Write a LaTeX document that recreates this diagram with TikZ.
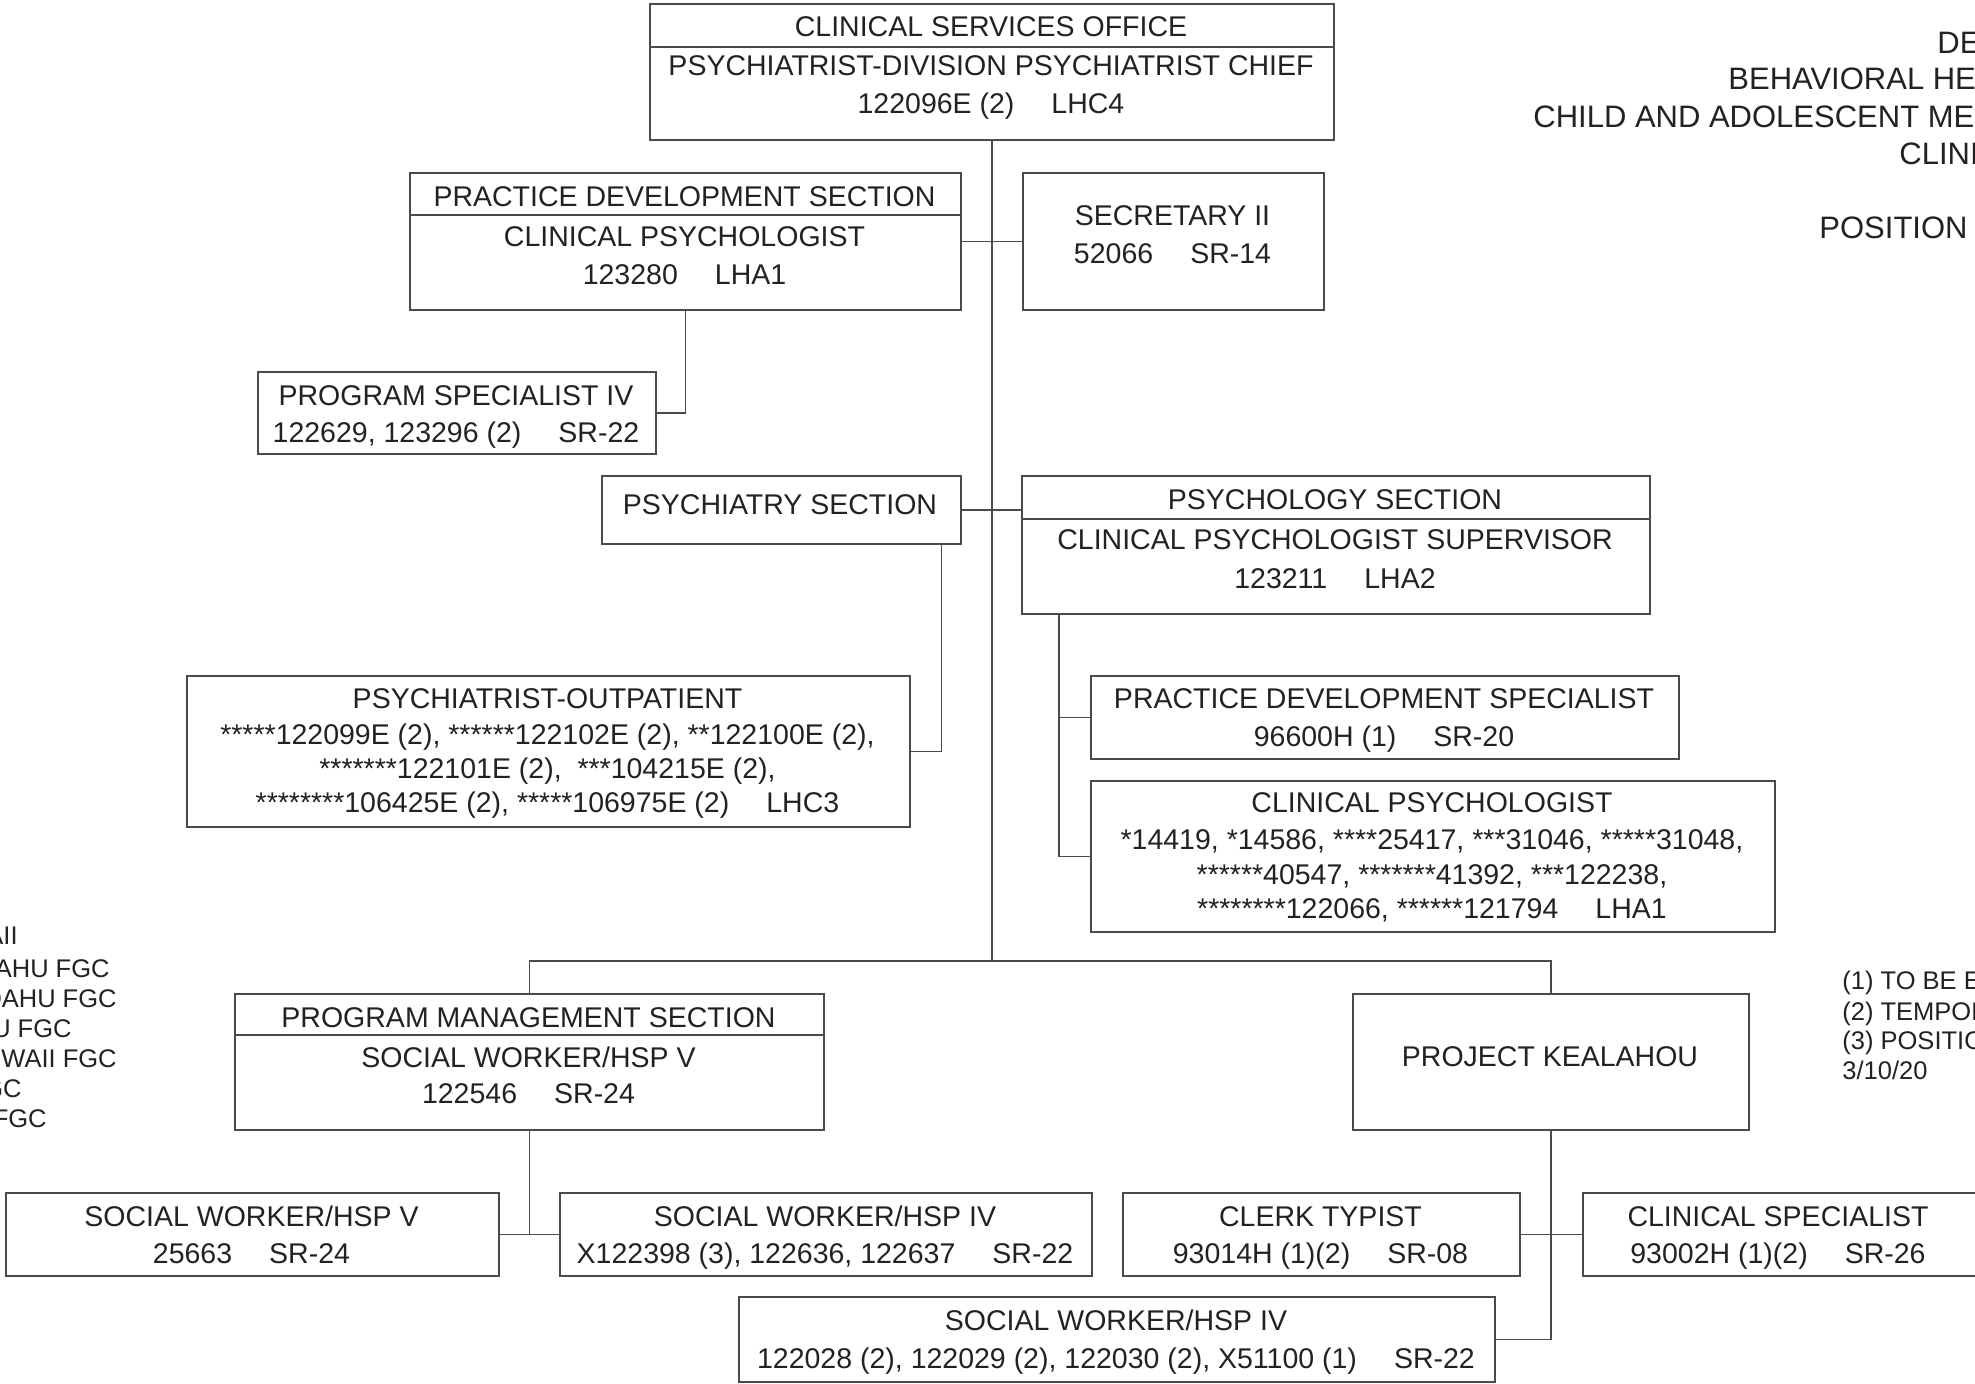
\documentclass[tikz,border=0pt]{standalone}
\usepackage{fontspec}
\setmainfont{Liberation Sans}
\usetikzlibrary{calc}
\definecolor{linec}{HTML}{4A4A4A}
\definecolor{textc}{HTML}{222222}
\newcommand{\gp}{\hspace{1.3em}}
\begin{document}
\begin{tikzpicture}[x=0.5pt,y=-0.5pt,
 box/.style={draw=linec, line width=0.75pt, inner sep=0, anchor=north west},
 txt/.style={inner sep=0, anchor=base, text=textc, font=\fontsize{14.25}{17}\selectfont},
 ttl/.style={inner sep=0, anchor=base west, text=textc, font=\fontsize{15.5}{18}\selectfont},
 legl/.style={inner sep=0, anchor=base east, text=textc, font=\fontsize{12.75}{15}\selectfont},
 legr/.style={inner sep=0, anchor=base west, text=textc, font=\fontsize{12.75}{15}\selectfont},
 conn/.style={draw=linec, line width=0.75pt}]
\clip (0,0) rectangle (1975,1383);
\fill[white] (0,0) rectangle (1975,1383);
% boxes
\node[box, minimum width=342pt, minimum height=68pt] (cso) at (649,3) {};
\node[box, minimum width=275.5pt, minimum height=68.5pt] (pds) at (409,172) {};
\node[box, minimum width=150.5pt, minimum height=68.5pt] (sec) at (1022,172) {};
\node[box, minimum width=199pt, minimum height=41pt] (ps4) at (257,371) {};
\node[box, minimum width=179.5pt, minimum height=34pt] (psy) at (601,475) {};
\node[box, minimum width=314pt, minimum height=69pt] (pgy) at (1021,475) {};
\node[box, minimum width=361.5pt, minimum height=75.5pt] (out) at (186,675) {};
\node[box, minimum width=294pt, minimum height=41.5pt] (pdsp) at (1090,675) {};
\node[box, minimum width=342pt, minimum height=75.5pt] (clp) at (1090,780) {};
\node[box, minimum width=294.5pt, minimum height=68pt] (pms) at (234,993) {};
\node[box, minimum width=198pt, minimum height=68pt] (kea) at (1352,993) {};
\node[box, minimum width=246.5pt, minimum height=41.5pt] (sw5) at (5,1192) {};
\node[box, minimum width=266pt, minimum height=41.5pt] (sw4a) at (559,1192) {};
\node[box, minimum width=198.5pt, minimum height=41.5pt] (clk) at (1122,1192) {};
\node[box, minimum width=210pt, minimum height=41.5pt] (csp) at (1582,1192) {};
\node[box, minimum width=378pt, minimum height=42.5pt] (sw4b) at (738,1296) {};
% dividers
\draw[conn] ([yshift=-22pt]cso.north west) -- ([yshift=-22pt]cso.north east);
\draw[conn] ([yshift=-21.5pt]pds.north west) -- ([yshift=-21.5pt]pds.north east);
\draw[conn] ([yshift=-22pt]pgy.north west) -- ([yshift=-22pt]pgy.north east);
\draw[conn] ([yshift=-21pt]pms.north west) -- ([yshift=-21pt]pms.north east);
% connectors
\coordinate (busy) at (0,961);
\coordinate (psyd) at ($(psy.south east)+(-20,0)$);
\coordinate (pgyd) at ($(pgy.south west)+(38,0)$);
\draw[conn] (cso.south) -- (cso.south |- busy);
\draw[conn] (pms.north) -- (pms.north |- busy) -- (kea.north |- busy) -- (kea.north);
\draw[conn] (pds.east) -- (sec.west);
\draw[conn] (pds.south) |- (ps4.east);
\draw[conn] (psy.east) -- (psy.east -| pgy.west);
\draw[conn] (psyd) |- (out.east);
\draw[conn] (pgyd) |- (pdsp.west);
\draw[conn] (pgyd) |- (clp.west);
\draw[conn] (pms.south) -- (pms.south |- sw5.east);
\draw[conn] (sw5.east) -- (sw4a.west);
\draw[conn] (kea.south) |- (sw4b.east);
\draw[conn] (clk.east) -- (csp.west);
% texts
\node[txt] (cso1) at (991,36) {CLINICAL SERVICES OFFICE};
\node[txt] (cso2) at (991,75) {PSYCHIATRIST-DIVISION PSYCHIATRIST CHIEF};
\node[txt] (cso3) at (991,113) {122096E (2)\gp LHC4};
\node[txt] (pds1) at (684.5,206) {PRACTICE DEVELOPMENT SECTION};
\node[txt] (pds2) at (684.5,246) {CLINICAL PSYCHOLOGIST};
\node[txt] (pds3) at (684.5,284) {123280\gp LHA1};
\node[txt] (sec1) at (1172.5,225) {SECRETARY II};
\node[txt] (sec2) at (1172.5,263) {52066\gp SR-14};
\node[txt] (ps41) at (456,405) {PROGRAM SPECIALIST IV};
\node[txt] (ps42) at (456,442) {122629, 123296 (2)\gp SR-22};
\node[txt] (psy1) at (780,514) {PSYCHIATRY SECTION};
\node[txt] (pgy1) at (1335,509) {PSYCHOLOGY SECTION};
\node[txt] (pgy2) at (1335,549) {CLINICAL PSYCHOLOGIST SUPERVISOR};
\node[txt] (pgy3) at (1335,588) {123211\gp LHA2};
\node[txt] (out1) at (547.5,708) {PSYCHIATRIST-OUTPATIENT};
\node[txt] (out2) at (547.5,744) {*****122099E (2), ******122102E (2), **122100E (2),};
\node[txt] (out3) at (547.5,778) {*******122101E (2),\ \ ***104215E (2),};
\node[txt] (out4) at (547.5,812) {********106425E (2), *****106975E (2)\gp LHC3};
\node[txt] (pdsp1) at (1384,708) {PRACTICE DEVELOPMENT SPECIALIST};
\node[txt] (pdsp2) at (1384,746) {96600H (1)\gp SR-20};
\node[txt] (clp1) at (1432,812) {CLINICAL PSYCHOLOGIST};
\node[txt] (clp2) at (1432,849) {*14419, *14586, ****25417, ***31046, *****31048,};
\node[txt] (clp3) at (1432,884) {******40547, *******41392, ***122238,};
\node[txt] (clp4) at (1432,918) {********122066, ******121794\gp LHA1};
\node[txt] (pms1) at (528.5,1027) {PROGRAM MANAGEMENT SECTION};
\node[txt] (pms2) at (528.5,1067) {SOCIAL WORKER/HSP V};
\node[txt] (pms3) at (528.5,1103) {122546\gp SR-24};
\node[txt] (kea1) at (1550,1066) {PROJECT KEALAHOU};
\node[txt] (sw51) at (251.5,1226) {SOCIAL WORKER/HSP V};
\node[txt] (sw52) at (251.5,1263) {25663\gp SR-24};
\node[txt] (sw4a1) at (825,1226) {SOCIAL WORKER/HSP IV};
\node[txt] (sw4a2) at (825,1263) {X122398 (3), 122636, 122637\gp SR-22};
\node[txt] (clk1) at (1320.5,1226) {CLERK TYPIST};
\node[txt] (clk2) at (1320.5,1263) {93014H (1)(2)\gp SR-08};
\node[txt] (csp1) at (1778,1226) {CLINICAL SPECIALIST};
\node[txt] (csp2) at (1778,1263) {93002H (1)(2)\gp SR-26};
\node[txt] (sw4b1) at (1116,1330) {SOCIAL WORKER/HSP IV};
\node[txt] (sw4b2) at (1116,1368) {122028 (2), 122029 (2), 122030 (2), X51100 (1)\gp SR-22};
% title (cut at right edge)
\node[ttl] (ti1) at (1937,53) {DE};
\node[ttl] (ti2) at (1728,89) {BEHAVIORAL HE};
\node[ttl] (ti3) at (1533,127) {CHILD AND ADOLESCENT ME};
\node[ttl] (ti4) at (1899,164) {CLINI};
\node[ttl] (ti5) at (1819,238) {POSITION};
% left legend (cut at left edge)
\node[legl] (lg1) at (18,944) {AII};
\node[legl] (lg2) at (110,977) {AHU FGC};
\node[legl] (lg3) at (117,1007) {OAHU FGC};
\node[legl] (lg4) at (72,1037) {U FGC};
\node[legl] (lg5) at (117,1067) {WAII FGC};
\node[legl] (lg6) at (22,1097) {GC};
\node[legl] (lg7) at (47,1127) {FGC};
% right legend
\node[legr] (rg1) at (1842,989) {(1) TO BE E};
\node[legr] (rg2) at (1842,1020) {(2) TEMPOR};
\node[legr] (rg3) at (1842,1049) {(3) POSITIO};
\node[legr] (rg4) at (1842,1079) {3/10/20};
\end{tikzpicture}
\end{document}
